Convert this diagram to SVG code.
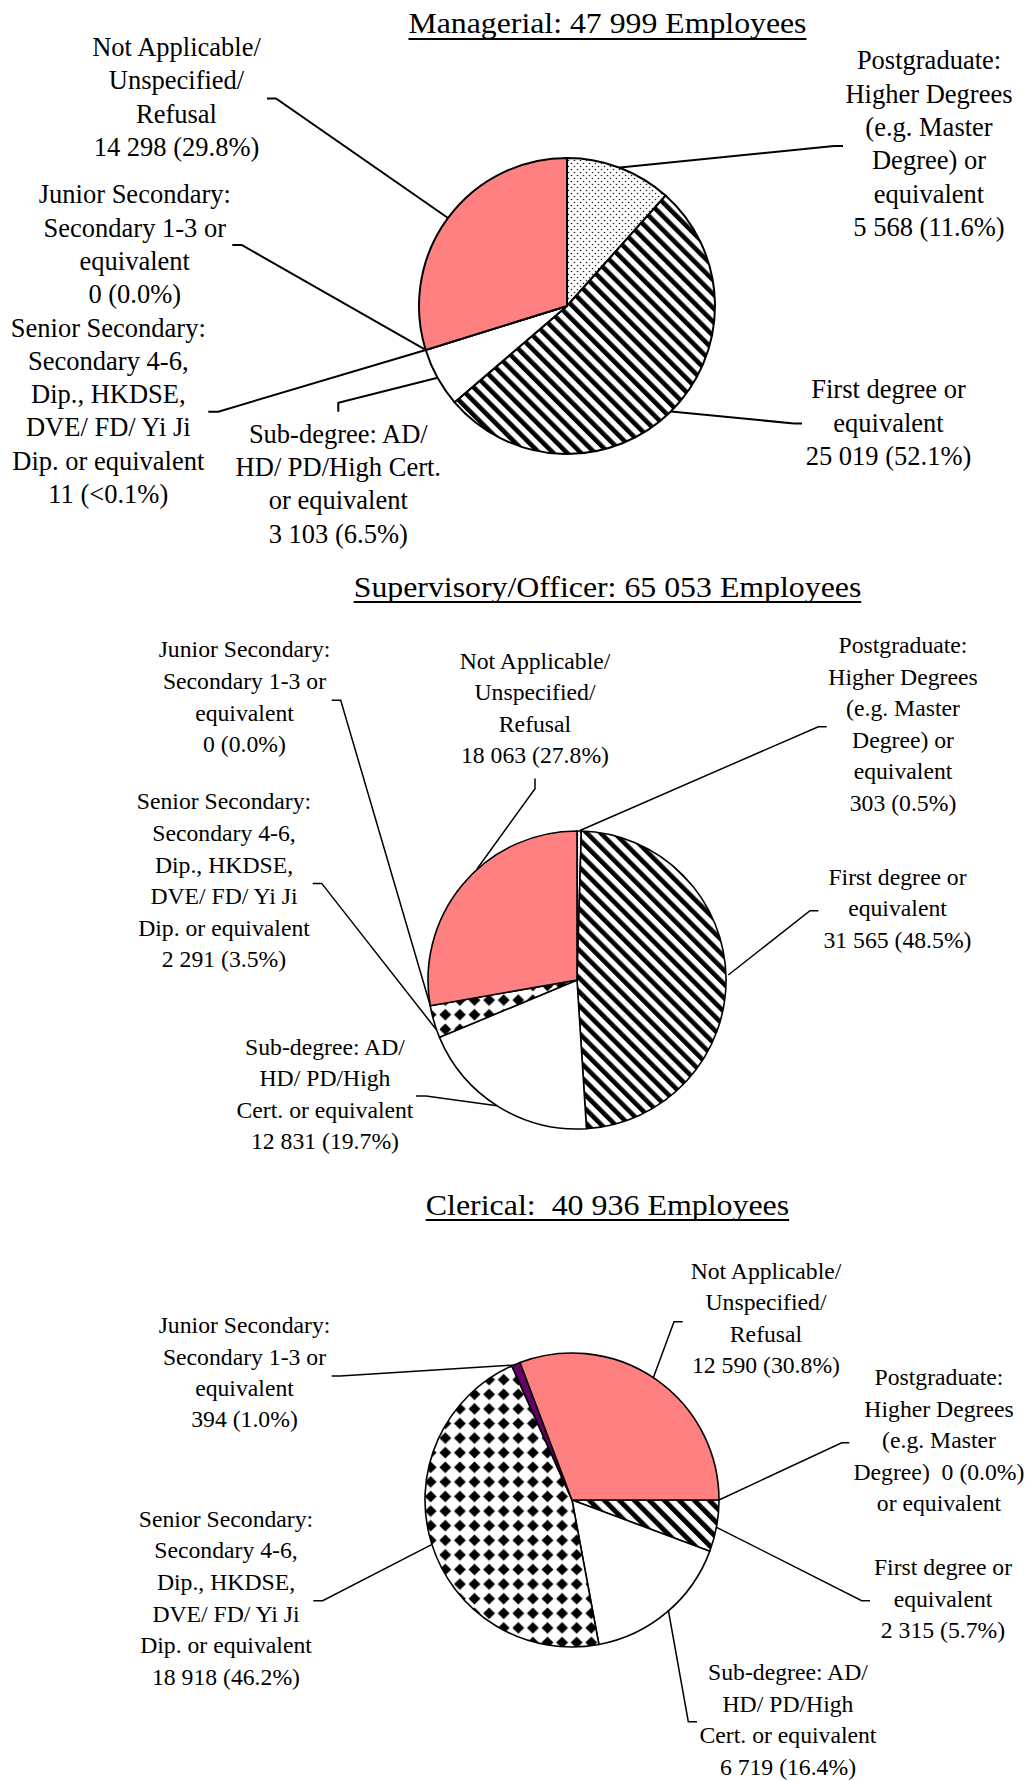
<svg xmlns="http://www.w3.org/2000/svg" width="1028" height="1780" viewBox="0 0 1028 1780">
<style>
text { font-family: "Liberation Serif", "Times New Roman", serif; fill: #000; text-anchor: middle; }
.m { font-size: 26.5px; }
.s { font-size: 23.7px; }
.ttl { font-size: 29px; }
.lead { fill: none; stroke: #000; stroke-width: 2; stroke-linejoin: miter; }
.lead2 { fill: none; stroke: #000; stroke-width: 1.5; }
.sl { stroke: #000; stroke-width: 2; stroke-linejoin: round; }
.sl2 { stroke: #000; stroke-width: 1.6; stroke-linejoin: round; }
.ul { stroke: #000; stroke-width: 1.8; }
.pink { fill: #FF8080; }
.white { fill: #FFFFFF; }
.purple { fill: #660066; }
</style>
<defs>
<pattern id="hatch" width="9.8" height="9.8" patternUnits="userSpaceOnUse" patternTransform="rotate(-45)">
<rect width="9.8" height="9.8" fill="#fff"/>
<rect width="4.6" height="9.8" fill="#000"/>
</pattern>
<pattern id="hatchc" width="10.6" height="10.6" patternUnits="userSpaceOnUse" patternTransform="rotate(-45)">
<rect width="10.6" height="10.6" fill="#fff"/>
<rect width="5" height="10.6" fill="#000"/>
</pattern>
<pattern id="dots" width="6" height="6" patternUnits="userSpaceOnUse">
<rect width="6" height="6" fill="#fff"/>
<circle cx="1.5" cy="1.5" r="0.8" fill="#222"/>
<circle cx="4.5" cy="4.5" r="0.8" fill="#222"/>
</pattern>
<pattern id="diam" width="14.6" height="14.6" patternUnits="userSpaceOnUse">
<rect width="14.6" height="14.6" fill="#fff"/>
<path d="M7.3,1.4 L13.2,7.3 L7.3,13.2 L1.4,7.3 Z" fill="#000"/>
</pattern>
</defs>
<rect width="1028" height="1780" fill="#fff"/>

<!-- ===== Managerial ===== -->
<g id="managerial-title">
<text class="ttl" x="607.5" y="33" textLength="398" lengthAdjust="spacingAndGlyphs">Managerial: 47 999 Employees</text>
<line class="ul" x1="408.5" y1="39" x2="806.5" y2="39"/>
</g>
<g id="managerial-pie">
<path class="sl" fill="url(#dots)" d="M567,306 L567,158 A148,148 0 0 1 665.57,195.59 Z"/>
<path class="sl" fill="url(#hatch)" d="M567,306 L665.57,195.59 A148,148 0 1 1 454.61,402.29 Z"/>
<path class="sl white" d="M567,306 L454.61,402.29 A148,148 0 0 1 425.70,350.06 Z"/>
<path class="sl" fill="url(#diam)" d="M567,306 L425.70,350.06 A148,148 0 0 1 425.64,349.85 Z"/>
<path class="sl pink" d="M567,306 L425.64,349.85 A148,148 0 0 1 567,158 Z"/>
</g>
<g id="managerial-connectors">
<path class="lead" d="M267,98.5 H276 L448,218"/>
<path class="lead" d="M232.3,245 H241.7 L425.7,349.9"/>
<path class="lead" d="M208.3,411.7 H218.3 L425.7,350"/>
<path class="lead" d="M338.3,411.7 V402.7 L437.6,377.8"/>
<path class="lead" d="M620,167.5 L834,146 H843"/>
<path class="lead" d="M671,411.5 L794,423.5 H802"/>
</g>
<g id="managerial-na-label">
<text class="m"><tspan x="176.5" y="56">Not Applicable/</tspan><tspan x="176.5" y="89.3">Unspecified/</tspan><tspan x="176.5" y="122.6">Refusal</tspan><tspan x="176.5" y="155.9">14 298 (29.8%)</tspan></text>
</g>
<g id="managerial-junior-label">
<text class="m"><tspan x="134.8" y="203.3">Junior Secondary:</tspan><tspan x="134.8" y="236.6">Secondary 1-3 or</tspan><tspan x="134.8" y="269.9">equivalent</tspan><tspan x="134.8" y="303.2">0 (0.0%)</tspan></text>
</g>
<g id="managerial-senior-label">
<text class="m"><tspan x="108.3" y="336.5">Senior Secondary:</tspan><tspan x="108.3" y="369.8">Secondary 4-6,</tspan><tspan x="108.3" y="403.1">Dip., HKDSE,</tspan><tspan x="108.3" y="436.4">DVE/ FD/ Yi Ji</tspan><tspan x="108.3" y="469.7">Dip. or equivalent</tspan><tspan x="108.3" y="503">11 (&lt;0.1%)</tspan></text>
</g>
<g id="managerial-sub-label">
<text class="m"><tspan x="338.3" y="442.7">Sub-degree: AD/</tspan><tspan x="338.3" y="476">HD/ PD/High Cert.</tspan><tspan x="338.3" y="509.3">or equivalent</tspan><tspan x="338.3" y="542.6">3 103 (6.5%)</tspan></text>
</g>
<g id="managerial-postgrad-label">
<text class="m"><tspan x="929" y="69.3">Postgraduate:</tspan><tspan x="929" y="102.6">Higher Degrees</tspan><tspan x="929" y="135.9">(e.g. Master</tspan><tspan x="929" y="169.2">Degree) or</tspan><tspan x="929" y="202.5">equivalent</tspan><tspan x="929" y="235.8">5 568 (11.6%)</tspan></text>
</g>
<g id="managerial-first-label">
<text class="m"><tspan x="888.5" y="398.3">First degree or</tspan><tspan x="888.5" y="431.6">equivalent</tspan><tspan x="888.5" y="464.9">25 019 (52.1%)</tspan></text>
</g>

<!-- ===== Supervisory/Officer ===== -->
<g id="supervisory-title">
<text class="ttl" x="607.5" y="597" textLength="507.6" lengthAdjust="spacingAndGlyphs">Supervisory/Officer: 65 053 Employees</text>
<line class="ul" x1="353.6" y1="602" x2="861.2" y2="602"/>
</g>
<g id="supervisory-pie">
<path class="sl2" fill="url(#dots)" d="M577,980 L577,831 A149,149 0 0 1 581.36,831.06 Z"/>
<path class="sl2" fill="url(#hatch)" d="M577,980 L581.36,831.06 A149,149 0 0 1 586.46,1128.70 Z"/>
<path class="sl2 white" d="M577,980 L586.46,1128.70 A149,149 0 0 1 439.47,1037.36 Z"/>
<path class="sl2" fill="url(#diam)" d="M577,980 L439.47,1037.36 A149,149 0 0 1 430.25,1005.78 Z"/>
<path class="sl2 pink" d="M577,980 L430.25,1005.78 A149,149 0 0 1 577,831 Z"/>
</g>
<g id="supervisory-connectors">
<path class="lead2" d="M331.7,700.2 H340.7 L430.3,1005.8"/>
<path class="lead2" d="M312.7,883.4 H321.7 L436.6,1030"/>
<path class="lead2" d="M535,778.4 V788.7 L477,869"/>
<path class="lead2" d="M826.7,726.7 H818.3 L580,830.5"/>
<path class="lead2" d="M818.3,910.7 H810 L728.3,975"/>
<path class="lead2" d="M416,1096 H426 L497,1105.7"/>
</g>
<g id="supervisory-junior-label">
<text class="s"><tspan x="244.5" y="657.2">Junior Secondary:</tspan><tspan x="244.5" y="688.9">Secondary 1-3 or</tspan><tspan x="244.5" y="720.6">equivalent</tspan><tspan x="244.5" y="752.3">0 (0.0%)</tspan></text>
</g>
<g id="supervisory-na-label">
<text class="s"><tspan x="535" y="668.5">Not Applicable/</tspan><tspan x="535" y="700">Unspecified/</tspan><tspan x="535" y="731.5">Refusal</tspan><tspan x="535" y="763">18 063 (27.8%)</tspan></text>
</g>
<g id="supervisory-senior-label">
<text class="s"><tspan x="224" y="809.4">Senior Secondary:</tspan><tspan x="224" y="841">Secondary 4-6,</tspan><tspan x="224" y="872.6">Dip., HKDSE,</tspan><tspan x="224" y="904.2">DVE/ FD/ Yi Ji</tspan><tspan x="224" y="935.8">Dip. or equivalent</tspan><tspan x="224" y="967.4">2 291 (3.5%)</tspan></text>
</g>
<g id="supervisory-sub-label">
<text class="s"><tspan x="325" y="1054.6">Sub-degree: AD/</tspan><tspan x="325" y="1086.2">HD/ PD/High</tspan><tspan x="325" y="1117.8">Cert. or equivalent</tspan><tspan x="325" y="1149.4">12 831 (19.7%)</tspan></text>
</g>
<g id="supervisory-postgrad-label">
<text class="s"><tspan x="903" y="653.3">Postgraduate:</tspan><tspan x="903" y="684.8">Higher Degrees</tspan><tspan x="903" y="716.3">(e.g. Master</tspan><tspan x="903" y="747.8">Degree) or</tspan><tspan x="903" y="779.3">equivalent</tspan><tspan x="903" y="810.8">303 (0.5%)</tspan></text>
</g>
<g id="supervisory-first-label">
<text class="s"><tspan x="897.5" y="885">First degree or</tspan><tspan x="897.5" y="916.3">equivalent</tspan><tspan x="897.5" y="947.6">31 565 (48.5%)</tspan></text>
</g>

<!-- ===== Clerical ===== -->
<g id="clerical-title">
<text class="ttl" x="607.5" y="1215" textLength="363.4" lengthAdjust="spacingAndGlyphs" xml:space="preserve">Clerical:  40 936 Employees</text>
<line class="ul" x1="425.7" y1="1220" x2="789.1" y2="1220"/>
</g>
<g id="clerical-pie">
<path class="sl2" fill="url(#hatchc)" d="M572,1500 L719,1500 A147,147 0 0 1 709.81,1551.15 Z"/>
<path class="sl2 white" d="M572,1500 L709.81,1551.15 A147,147 0 0 1 598.91,1644.52 Z"/>
<path class="sl2" fill="url(#diam)" d="M572,1500 L598.91,1644.52 A147,147 0 0 1 511.79,1365.90 Z"/>
<path class="sl2 purple" d="M572,1500 L511.79,1365.90 A147,147 0 0 1 520.00,1362.50 Z"/>
<path class="sl2 pink" d="M572,1500 L520.00,1362.50 A147,147 0 0 1 719,1500 Z"/>
</g>
<g id="clerical-connectors">
<path class="lead2" d="M682.7,1321.7 H674 L653.3,1377.8"/>
<path class="lead2" d="M849.3,1442.7 H841.7 L719,1500"/>
<path class="lead2" d="M870,1600.7 H861.7 L716.6,1527.3"/>
<path class="lead2" d="M668.3,1610 L688.3,1721.7 H697"/>
<path class="lead2" d="M331.7,1376 H340 L515.5,1365"/>
<path class="lead2" d="M313.3,1600.7 H322.7 L431.6,1544.6"/>
</g>
<g id="clerical-na-label">
<text class="s"><tspan x="766" y="1278.5">Not Applicable/</tspan><tspan x="766" y="1310">Unspecified/</tspan><tspan x="766" y="1341.5">Refusal</tspan><tspan x="766" y="1373">12 590 (30.8%)</tspan></text>
</g>
<g id="clerical-junior-label">
<text class="s"><tspan x="244.5" y="1333.3">Junior Secondary:</tspan><tspan x="244.5" y="1364.6">Secondary 1-3 or</tspan><tspan x="244.5" y="1395.9">equivalent</tspan><tspan x="244.5" y="1427.2">394 (1.0%)</tspan></text>
</g>
<g id="clerical-senior-label">
<text class="s"><tspan x="226" y="1526.7">Senior Secondary:</tspan><tspan x="226" y="1558.3">Secondary 4-6,</tspan><tspan x="226" y="1589.9">Dip., HKDSE,</tspan><tspan x="226" y="1621.5">DVE/ FD/ Yi Ji</tspan><tspan x="226" y="1653.1">Dip. or equivalent</tspan><tspan x="226" y="1684.7">18 918 (46.2%)</tspan></text>
</g>
<g id="clerical-postgrad-label">
<text class="s" xml:space="preserve"><tspan x="939" y="1385">Postgraduate:</tspan><tspan x="939" y="1416.5">Higher Degrees</tspan><tspan x="939" y="1448">(e.g. Master</tspan><tspan x="939" y="1479.5">Degree)  0 (0.0%)</tspan><tspan x="939" y="1511">or equivalent</tspan></text>
</g>
<g id="clerical-first-label">
<text class="s"><tspan x="943" y="1575">First degree or</tspan><tspan x="943" y="1606.7">equivalent</tspan><tspan x="943" y="1638.3">2 315 (5.7%)</tspan></text>
</g>
<g id="clerical-sub-label">
<text class="s"><tspan x="788" y="1680">Sub-degree: AD/</tspan><tspan x="788" y="1711.6">HD/ PD/High</tspan><tspan x="788" y="1743.2">Cert. or equivalent</tspan><tspan x="788" y="1774.8">6 719 (16.4%)</tspan></text>
</g>
</svg>
